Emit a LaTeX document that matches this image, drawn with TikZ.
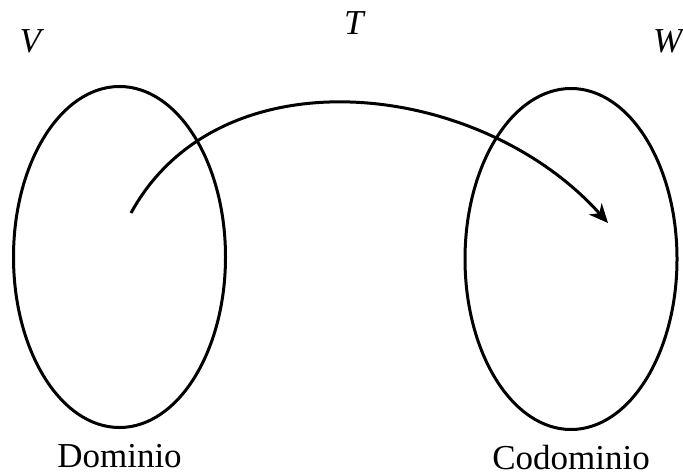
\documentclass[tikz,border=0pt]{standalone}
\usepackage{fontspec}
\setmainfont{Liberation Serif}
\usetikzlibrary{arrows.meta,shapes.geometric}

\begin{document}
\begin{tikzpicture}[
  x=0.5pt,y=-0.5pt,
  >={Stealth[length=9.5pt,width=8.5pt,inset=3pt]},
  font=\fontsize{17.5}{21}\selectfont,
  set/.style={draw,ellipse,line width=1.5pt,inner sep=0pt,
    minimum width=106pt,minimum height=170.5pt},
  lbl/.style={anchor=base,inner sep=0pt}
]
  \useasboundingbox (0,0) rectangle (683,475);

  \node[set] (dom) at (119.5,257) {};
  \node[set] (cod) at (571,259) {};

  \node[lbl] (V) at (32,53) {\textit{V}};
  \node[lbl] (T) at (355,35) {\textit{T}};
  \node[lbl] (W) at (669,53) {\textit{W}};
  \node[lbl] (domlbl) at (119.5,467) {Dominio};
  \node[lbl] (codlbl) at (571,469) {Codominio};

  \coordinate (src) at (131,213);
  \coordinate (dst) at (608,223);
  \draw[->,line width=1.5pt] (src) .. controls (220,50) and (480,80) .. (dst);
\end{tikzpicture}
\end{document}
